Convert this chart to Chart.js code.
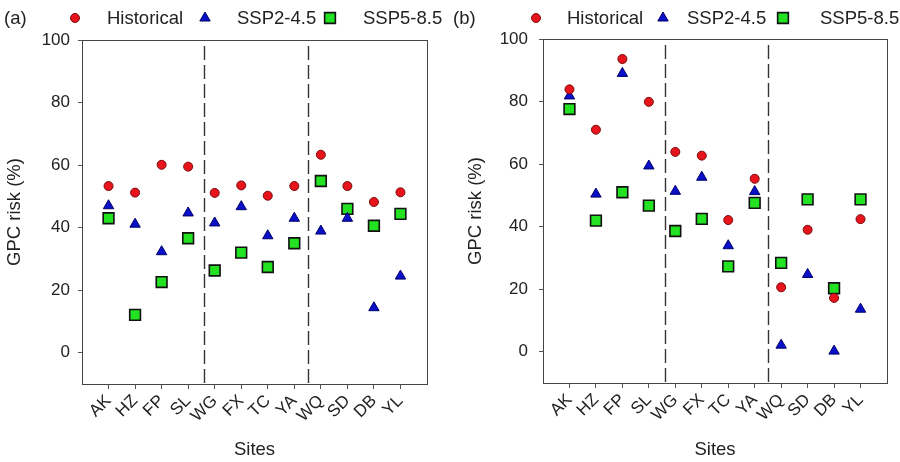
<!DOCTYPE html>
<html>
<head>
<meta charset="utf-8">
<script src="https://cdn.jsdelivr.net/npm/chart.js@4.4.1/dist/chart.umd.min.js"></script>
<style>
  body { margin: 0; background: #fff; }
  .wrap { display: flex; width: 900px; height: 462px; }
  canvas { display: block; }
</style>
</head>
<body>
<div class="wrap">
  <canvas id="chartA" width="450" height="462"></canvas>
  <canvas id="chartB" width="450" height="462"></canvas>
</div>
<script>
// sites and values
var sites = ['AK', 'HZ', 'FP', 'SL', 'WG', 'FX', 'TC', 'YA', 'WQ', 'SD', 'DB', 'YL'];
var yTicks = [0, 20, 40, 60, 80, 100];
var groupBreaks = [4.6, 8.5];
var seriesNames = ['Historical', 'SSP2-4.5', 'SSP5-8.5'];

// panel (a)
var histA = [53.3, 51.2, 60.1, 59.5, 51.1, 53.5, 50.2, 53.3, 63.3, 53.3, 48.2, 51.3];
var ssp245A = [47.0, 41.1, 32.3, 44.7, 41.5, 46.7, 37.4, 43.0, 38.9, 43.0, 14.4, 24.5];
var ssp585A = [43.0, 12.1, 22.6, 36.6, 26.3, 32.0, 27.4, 35.0, 54.9, 46.0, 40.6, 44.4];

// panel (b)
var histB = [83.9, 71.0, 93.6, 79.9, 63.9, 62.7, 42.1, 55.3, 20.6, 39.0, 17.2, 42.4];
var ssp245B = [81.8, 50.4, 89.0, 59.4, 51.3, 55.8, 33.9, 51.2, 2.1, 24.7, 0.2, 13.6];
var ssp585B = [77.6, 41.9, 51.0, 46.7, 38.6, 42.5, 27.3, 47.6, 28.4, 48.7, 20.3, 48.7];

var FONT = '"Liberation Sans", Arial, sans-serif';
var styles = [
  { pointStyle: 'circle', radius: 4.5, bg: '#e8141c', border: '#7a0a0a', bw: 1 },
  { pointStyle: 'triangle', radius: 6, bg: '#0a0fc8', border: '#00006a', bw: 1 },
  { pointStyle: 'rect', radius: 7.6, bg: '#22e222', border: '#111', bw: 1.6 }
];

function toPoints(vals) {
  return vals.map(function (v, i) { return { x: i + 1, y: v }; });
}

// box, dashed group separators, panel letter and legend
var decoPlugin = {
  id: 'deco',
  beforeDatasetsDraw: function (chart) {
    var ctx = chart.ctx, a = chart.chartArea, xs = chart.scales.x;
    ctx.save();
    ctx.strokeStyle = '#333';
    ctx.lineWidth = 1.4;
    ctx.setLineDash([14, 5]);
    groupBreaks.forEach(function (b) {
      var px = Math.round(xs.getPixelForValue(b)) + 0.5;
      ctx.beginPath();
      ctx.moveTo(px, a.top + 6);
      ctx.lineTo(px, a.bottom);
      ctx.stroke();
    });
    ctx.restore();
  },
  afterDraw: function (chart) {
    var ctx = chart.ctx, a = chart.chartArea;
    var o = chart.options.plugins.deco;
    ctx.save();
    ctx.strokeStyle = '#444';
    ctx.lineWidth = 1;
    ctx.strokeRect(Math.round(a.left) + 0.5, Math.round(a.top) + 0.5,
      Math.round(a.right - a.left), Math.round(a.bottom - a.top));
    ctx.fillStyle = '#222';
    ctx.font = '18.5px ' + FONT;
    ctx.textBaseline = 'middle';
    ctx.fillText(o.letter, o.letterX, 19);
    seriesNames.forEach(function (name, i) {
      var s = styles[i];
      ctx.fillStyle = s.bg;
      ctx.strokeStyle = s.border;
      ctx.lineWidth = s.bw;
      Chart.helpers.drawPoint(ctx, { pointStyle: s.pointStyle, radius: s.radius, borderWidth: s.bw }, o.markX[i], 18);
      ctx.fillStyle = '#222';
      ctx.fillText(name, o.textX[i], 19);
    });
    ctx.restore();
  }
};

function makeChart(id, hist, s245, s585, lay) {
  var sets = [hist, s245, s585].map(function (vals, i) {
    var s = styles[i];
    return {
      label: seriesNames[i],
      data: toPoints(vals),
      pointStyle: s.pointStyle,
      pointRadius: s.radius,
      pointBackgroundColor: s.bg,
      pointBorderColor: s.border,
      pointBorderWidth: s.bw,
      showLine: false
    };
  });
  return new Chart(document.getElementById(id).getContext('2d'), {
    type: 'scatter',
    data: { datasets: sets },
    options: {
      responsive: false,
      animation: false,
      layout: { padding: { left: lay.padLeft, right: lay.padRight, top: lay.top, bottom: 0 } },
      plugins: {
        legend: { display: false },
        tooltip: { enabled: false },
        deco: lay.deco
      },
      scales: {
        x: {
          type: 'linear',
          min: 0,
          max: 13,
          afterBuildTicks: function (axis) {
            axis.ticks = sites.map(function (s, i) { return { value: i + 1 }; });
          },
          afterFit: function (axis) { axis.height = lay.xHeight; },
          ticks: {
            autoSkip: false,
            minRotation: 45,
            maxRotation: 45,
            padding: 2,
            color: '#222',
            font: { family: FONT, size: 17 },
            callback: function (v) { return sites[v - 1]; }
          },
          grid: { drawOnChartArea: false, tickLength: 5, tickColor: '#555' },
          border: { color: '#444' },
          title: {
            display: true,
            text: 'Sites',
            color: '#222',
            font: { family: FONT, size: 18.5 },
            padding: { top: 4, bottom: 1 }
          }
        },
        y: {
          min: -10,
          max: 100,
          afterBuildTicks: function (axis) {
            axis.ticks = yTicks.map(function (v) { return { value: v }; });
          },
          afterFit: function (axis) { axis.width = lay.yWidth; },
          ticks: { padding: lay.tickPad, color: '#222', font: { family: FONT, size: 17 } },
          grid: { drawOnChartArea: false, tickLength: 4, tickColor: '#555' },
          border: { color: '#444' },
          title: {
            display: true,
            text: 'GPC risk (%)',
            color: '#222',
            font: { family: FONT, size: 18.5 },
            padding: { top: 4, bottom: 4 }
          }
        }
      }
    },
    plugins: [decoPlugin]
  });
}

makeChart('chartA', histA, ssp245A, ssp585A, {
  padLeft: 0, padRight: 23, top: 40, yWidth: 82, xHeight: 78, tickPad: 8,
  deco: { letter: '(a)', letterX: 4, markX: [75, 205, 330], textX: [107, 237, 363] }
});
makeChart('chartB', histB, ssp245B, ssp585B, {
  padLeft: 11, padRight: 13, top: 39, yWidth: 82, xHeight: 79, tickPad: 11,
  deco: { letter: '(b)', letterX: 3, markX: [86, 213, 333], textX: [117, 237, 370] }
});
</script>
</body>
</html>
